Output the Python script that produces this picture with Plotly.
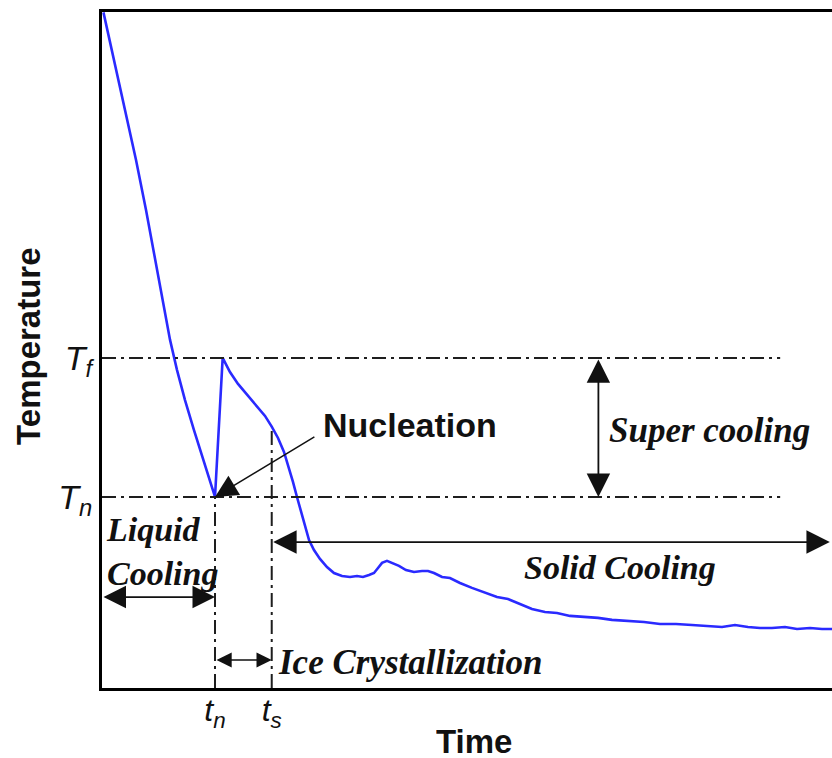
import plotly.graph_objects as go

# Cooling curve of a freezing sample (time in arbitrary units, temperature relative to T_f)
time = [0.2, 1.64, 3.15, 4.66, 6.03, 7.26, 8.36, 9.32, 10.27, 11.37, 12.6, 13.97, 15.48,
        16.53, 17.53, 18.63, 19.86, 21.1, 22.33, 23.25,
        24.11, 24.93, 25.62, 26.16, 26.71, 27.26, 27.81, 28.36, 29.04, 29.86, 30.82, 31.78,
        32.88, 33.97, 34.93, 35.75, 36.58, 37.26, 37.81, 38.36, 39.04, 39.73, 40.68, 41.64,
        42.74, 43.84, 44.66, 45.48, 46.58, 47.67, 49.04, 50.68, 52.47, 54.11, 55.62, 57.26,
        58.9, 60.68, 62.33, 64.11, 66.03, 67.95, 69.86, 72.05, 74.25, 76.44, 78.63, 80.82,
        83.01, 84.93, 86.71, 88.49, 90.14, 91.78, 93.56, 95.21, 96.99, 98.63, 100.0]
temperature = [17.4, 15.01, 12.49, 9.97, 7.45, 4.94, 2.67, 0.91, -0.60, -2.12, -3.63, -5.24, -7.0,
               0.0, -0.71, -1.31, -1.86, -2.37, -2.92, -3.46,
               -4.03, -4.73, -5.54, -6.24, -7.0, -7.76, -8.46, -9.17, -9.67, -10.12, -10.53, -10.83,
               -10.98, -11.03, -10.98, -11.03, -10.93, -10.83, -10.58, -10.32, -10.22, -10.32, -10.47, -10.68,
               -10.78, -10.73, -10.73, -10.83, -11.03, -11.08, -11.33, -11.58, -11.83, -12.04, -12.14, -12.39,
               -12.64, -12.79, -12.84, -12.99, -13.04, -13.09, -13.19, -13.24, -13.3, -13.4, -13.4, -13.45,
               -13.5, -13.55, -13.45, -13.55, -13.6, -13.6, -13.55, -13.65, -13.6, -13.65, -13.65]

# Characteristic points
T_f, T_n = 0.0, -7.0          # freezing / nucleation temperatures
t_n, t_s = 15.48, 23.25       # nucleation / end of crystallization times
T_s = -3.46                   # temperature at t_s
y_ticks = [T_n, T_f]
y_ticklabels = ["<i>T</i><sub><i>n</i></sub>", "<i>T</i><sub><i>f</i></sub>"]
x_ticks = [t_n, t_s]
x_ticklabels = ["<i>t</i><sub><i>n</i></sub>", "<i>t</i><sub><i>s</i></sub>"]

X_MAX = 100.0
Y_MIN, Y_MAX = -16.62, 17.42
REF_END = 92.9

SANS = "Liberation Sans, Arial, sans-serif"
SERIF = "Liberation Serif, Times New Roman, serif"
LINE_DARK = "#1e1e1e"
INK = "#111111"

fig = go.Figure()

fig.add_trace(go.Scatter(
    x=time, y=temperature, mode="lines",
    line=dict(color="#2a2aff", width=2.6),
    hoverinfo="skip", showlegend=False,
))

# Reference lines (dash-dot)
dashdot = dict(color=LINE_DARK, width=2, dash="14px,5px,3px,5px")
fig.add_shape(type="line", x0=0, x1=REF_END, y0=T_f, y1=T_f, line=dashdot)
fig.add_shape(type="line", x0=0, x1=REF_END, y0=T_n, y1=T_n, line=dashdot)
fig.add_shape(type="line", x0=t_n, x1=t_n, y0=Y_MIN, y1=T_n, line=dashdot)
fig.add_shape(type="line", x0=t_s, x1=t_s, y0=Y_MIN, y1=T_s, line=dashdot)


def double_arrow(x0, y0, x1, y1, width, size):
    fig.add_annotation(
        x=x1, y=y1, ax=x0, ay=y0, xref="x", yref="y", axref="x", ayref="y",
        text="", showarrow=True, arrowhead=2, startarrowhead=2,
        arrowside="end+start", arrowsize=size, startarrowsize=size,
        arrowwidth=width, arrowcolor=INK, standoff=0, startstandoff=0,
    )


# Phase spans
double_arrow(68.0, T_f, 68.0, T_n, 1.8, 2.6)           # super cooling
double_arrow(0.0, -12.04, t_n, -12.04, 1.8, 2.5)       # liquid cooling
double_arrow(t_n, -15.21, t_s, -15.21, 1.6, 1.9)       # ice crystallization
double_arrow(t_s, -9.27, 99.7, -9.27, 1.8, 2.6)        # solid cooling

# Nucleation pointer
fig.add_annotation(
    x=t_n, y=T_n, ax=29.3, ay=-3.93, xref="x", yref="y", axref="x", ayref="y",
    text="", showarrow=True, arrowhead=2, arrowsize=3.0, arrowwidth=1.5,
    arrowcolor=INK, standoff=0,
)

labels = [
    ("<b>Nucleation</b>", 30.0, -3.37, SANS, 34),
    ("<b><i>Super cooling</i></b>", 69.2, -3.63, SERIF, 35),
    ("<b><i>Liquid<br>Cooling</i></b>", 0.25, -9.77, SERIF, 34),
    ("<b><i>Ice Crystallization</i></b>", 23.9, -15.36, SERIF, 35),
    ("<b><i>Solid Cooling</i></b>", 57.6, -10.53, SERIF, 34),
]
for text, x, y, family, size in labels:
    fig.add_annotation(
        x=x, y=y, xref="x", yref="y", text=text, showarrow=False,
        xanchor="left", yanchor="middle", align="left",
        font=dict(family=family, size=size, color=INK),
    )

# Axis titles
fig.add_annotation(x=0.5096, y=-0.0785, xref="paper", yref="paper", text="<b>Time</b>",
                   showarrow=False, xanchor="center", yanchor="middle", height=38,
                   font=dict(family=SANS, size=33, color=INK))
fig.add_annotation(x=-0.101, y=0.505, xref="paper", yref="paper", text="<b>Temperature</b>",
                   showarrow=False, xanchor="center", yanchor="middle", textangle=-90,
                   font=dict(family=SANS, size=33, color=INK))

fig.update_layout(
    width=832, height=758,
    margin=dict(l=102, r=0, t=12, b=70),
    paper_bgcolor="white", plot_bgcolor="white",
    xaxis=dict(range=[0, X_MAX], showgrid=False, zeroline=False,
               showline=True, linecolor="#000000", linewidth=3, mirror=True,
               ticks="", tickvals=x_ticks, ticktext=x_ticklabels, ticklabelstandoff=-8,
               tickfont=dict(family=SANS, size=32, color=INK)),
    yaxis=dict(range=[Y_MIN, Y_MAX], showgrid=False, zeroline=False,
               showline=True, linecolor="#000000", linewidth=3,
               ticks="", tickvals=y_ticks, ticktext=y_ticklabels,
               tickfont=dict(family=SANS, size=34, color=INK)),
)

fig.write_html("out.html")
